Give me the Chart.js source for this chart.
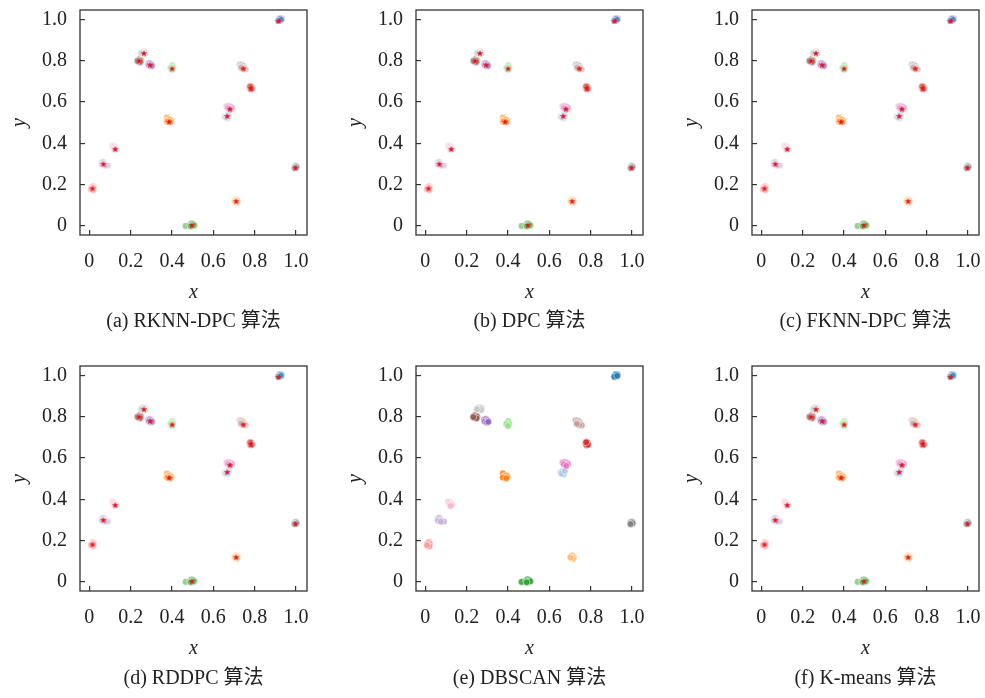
<!DOCTYPE html>
<html>
<head>
<meta charset="utf-8">
<script src="https://cdn.jsdelivr.net/npm/chart.js@4.4.1/dist/chart.umd.min.js"></script>
<style>
  html, body { margin: 0; padding: 0; background: #fff; }
  #wrap { position: relative; width: 985px; height: 698px; overflow: hidden; }
  #wrap canvas { position: absolute; }
</style>
</head>
<body>
<div id="wrap"></div>
<script>
// Sample points of the 16 groups, [x, y]
const g1  = [[0.918,0.995],[0.925,1.000],[0.930,1.003],[0.922,1.004],[0.914,0.993],[0.928,0.997]];
const g2  = [[0.255,0.842],[0.265,0.845],[0.272,0.840],[0.260,0.833],[0.270,0.832],[0.250,0.836]];
const g3  = [[0.236,0.803],[0.245,0.808],[0.250,0.800],[0.240,0.793],[0.248,0.792],[0.232,0.798]];
const g4  = [[0.285,0.785],[0.293,0.788],[0.300,0.782],[0.288,0.776],[0.298,0.772],[0.305,0.775]];
const g5  = [[0.395,0.770],[0.402,0.778],[0.398,0.760],[0.406,0.765],[0.392,0.764],[0.400,0.755]];
const g6  = [[0.728,0.782],[0.738,0.780],[0.745,0.775],[0.736,0.770],[0.750,0.765],[0.757,0.758],[0.745,0.760],[0.733,0.765]];
const g7  = [[0.776,0.670],[0.785,0.673],[0.780,0.662],[0.787,0.664],[0.778,0.676]];
const g8  = [[0.665,0.578],[0.675,0.580],[0.685,0.576],[0.690,0.570],[0.678,0.568],[0.670,0.570],[0.682,0.562]];
const g9  = [[0.655,0.530],[0.665,0.535],[0.672,0.528],[0.668,0.520],[0.660,0.525],[0.675,0.538]];
const g10 = [[0.375,0.525],[0.380,0.512],[0.390,0.515],[0.397,0.508],[0.385,0.505],[0.375,0.505],[0.392,0.502]];
const g11 = [[0.112,0.388],[0.120,0.385],[0.126,0.378],[0.118,0.375],[0.128,0.372],[0.122,0.368]];
const g12 = [[0.060,0.305],[0.068,0.310],[0.072,0.300],[0.062,0.296],[0.080,0.295],[0.090,0.292],[0.075,0.292]];
const g13 = [[0.010,0.185],[0.018,0.192],[0.022,0.183],[0.012,0.175],[0.020,0.172],[0.008,0.178]];
const g14 = [[0.466,0.000],[0.488,0.006],[0.495,0.012],[0.502,0.008],[0.498,0.000],[0.508,0.003],[0.490,-0.002]];
const g15 = [[0.704,0.125],[0.712,0.128],[0.718,0.120],[0.708,0.115],[0.715,0.112],[0.702,0.118]];
const g16 = [[0.994,0.288],[1.000,0.290],[0.998,0.280],[1.003,0.284],[0.992,0.280]];

// Cluster centres found by the density-peak style methods
const centerX = [0.915, 0.264, 0.242, 0.294, 0.401, 0.745, 0.781, 0.680, 0.667, 0.386, 0.126, 0.068, 0.016, 0.497, 0.711, 0.998];
const centerY = [0.992, 0.836, 0.800, 0.780, 0.762, 0.762, 0.666, 0.567, 0.532, 0.505, 0.372, 0.300, 0.182, 0.004, 0.120, 0.282];

const xTickValues = [0, 0.2, 0.4, 0.6, 0.8, 1.0];
const yTickValues = [0, 0.2, 0.4, 0.6, 0.8, 1.0];

const captions = ['(a) RKNN-DPC 算法', '(b) DPC 算法', '(c) FKNN-DPC 算法',
                  '(d) RDDPC 算法', '(e) DBSCAN 算法', '(f) K-means 算法'];
const showCenters = [true, true, true, true, false, true];

const groups = [g1, g2, g3, g4, g5, g6, g7, g8, g9, g10, g11, g12, g13, g14, g15, g16];
const groupColors = ['#1f77b4', '#c7c7c7', '#8c564b', '#9467bd', '#98df8a', '#c49c94', '#d62728', '#e377c2',
                     '#aec7e8', '#ff7f0e', '#f7b6d2', '#c5b0d5', '#ff9896', '#2ca02c', '#ffbb78', '#7f7f7f'];

const SERIF = '"Liberation Serif", "Times New Roman", "Noto Sans CJK SC", serif';
const INK = '#222222';
const FRAME = '#333333';

function rgba(hex, a) {
  const n = parseInt(hex.slice(1), 16);
  return `rgba(${(n >> 16) & 255},${(n >> 8) & 255},${n & 255},${a})`;
}

// small filled five-point star used as the centre marker
function makeStar() {
  const c = document.createElement('canvas');
  c.width = 8; c.height = 8;
  const ctx = c.getContext('2d');
  ctx.beginPath();
  for (let i = 0; i < 10; i++) {
    const r = i % 2 === 0 ? 3.4 : 1.45;
    const a = -Math.PI / 2 + i * Math.PI / 5;
    const px = 4 + r * Math.cos(a), py = 4.3 + r * Math.sin(a);
    if (i === 0) ctx.moveTo(px, py); else ctx.lineTo(px, py);
  }
  ctx.closePath();
  ctx.fillStyle = '#e3161e';
  ctx.fill();
  return c;
}
const starImg = makeStar();

// box around the plot area + caption under it
const framePlugin = {
  id: 'frameAndCaption',
  afterDraw(chart, args, opts) {
    const {ctx, chartArea: a} = chart;
    ctx.save();
    ctx.strokeStyle = FRAME;
    ctx.lineWidth = 1.3;
    ctx.strokeRect(a.left, a.top, a.right - a.left, a.bottom - a.top);
    ctx.fillStyle = INK;
    ctx.font = '20px ' + SERIF;
    ctx.textAlign = 'center';
    ctx.textBaseline = 'middle';
    ctx.fillText(opts.text, (a.left + a.right) / 2, opts.y);
    ctx.restore();
  }
};

const panelLeft = [0, 336, 672, 0, 336, 672];
const panelTop = [0, 0, 0, 356, 356, 356];
const captionY = [322, 322, 322, 323, 323, 323];

const wrap = document.getElementById('wrap');

captions.forEach((cap, p) => {
  const cv = document.createElement('canvas');
  cv.width = 313; cv.height = 340;
  cv.style.left = panelLeft[p] + 'px';
  cv.style.top = panelTop[p] + 'px';
  wrap.appendChild(cv);

  const alpha = showCenters[p] ? 0.5 : 0.85;
  const datasets = groups.map((g, i) => ({
    data: g.map(([x, y]) => ({x, y})),
    backgroundColor: rgba(groupColors[i], alpha),
    borderColor: 'rgba(255,255,255,0.8)',
    borderWidth: 0.7,
    pointRadius: 3.4,
    order: 1
  }));
  if (showCenters[p]) {
    datasets.push({
      data: centerX.map((x, i) => ({x, y: centerY[i]})),
      pointStyle: starImg,
      order: 0
    });
  }

  new Chart(cv, {
    type: 'scatter',
    data: {datasets},
    plugins: [framePlugin],
    options: {
      responsive: false,
      animation: false,
      events: [],
      layout: {padding: {top: 10, right: 6, bottom: 0, left: 0}},
      plugins: {
        legend: {display: false},
        tooltip: {enabled: false},
        frameAndCaption: {text: cap, y: captionY[p]}
      },
      scales: {
        x: {
          type: 'linear',
          min: -0.045, max: 1.053,
          afterBuildTicks: s => { s.ticks = xTickValues.map(v => ({value: v})); },
          afterFit: s => { s.height = 105; s.paddingLeft = 0; s.paddingRight = 0; },
          border: {display: false},
          grid: {drawOnChartArea: false, drawTicks: true, tickLength: -5, color: FRAME, lineWidth: 1.2},
          ticks: {
            padding: 20, color: INK, maxRotation: 0, autoSkip: false,
            font: {family: SERIF, size: 20},
            callback: v => (v === 0 ? '0' : v.toFixed(1))
          },
          title: {display: true, text: 'x', color: INK, padding: {top: 0, bottom: 35},
                  font: {family: SERIF, size: 20, style: 'italic'}}
        },
        y: {
          type: 'linear',
          min: -0.044, max: 1.045,
          afterBuildTicks: s => { s.ticks = yTickValues.map(v => ({value: v})); },
          afterFit: s => { s.width = 80; s.paddingTop = 0; s.paddingBottom = 0; },
          border: {display: false},
          grid: {drawOnChartArea: false, drawTicks: true, tickLength: -5, color: FRAME, lineWidth: 1.2},
          ticks: {
            padding: 18, color: INK, autoSkip: false,
            font: {family: SERIF, size: 20},
            callback: v => (v === 0 ? '0' : v.toFixed(1))
          },
          title: {display: true, text: 'y', color: INK, padding: {top: 8, bottom: 0},
                  font: {family: SERIF, size: 20, style: 'italic'}}
        }
      }
    }
  });
});
</script>
</body>
</html>
